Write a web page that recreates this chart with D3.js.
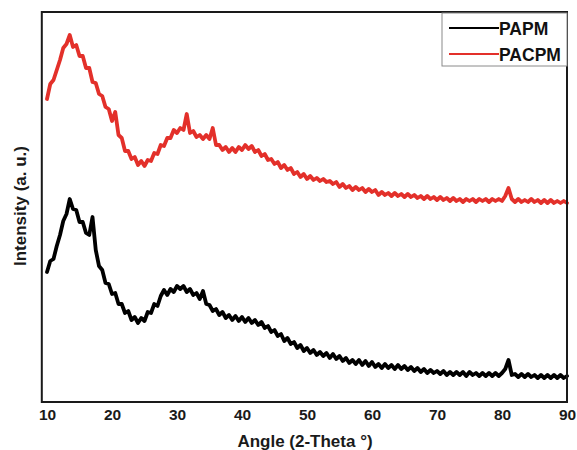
<!DOCTYPE html>
<html>
<head>
<meta charset="utf-8">
<script src="https://cdn.jsdelivr.net/npm/d3@7"></script>
<style>
  html, body { margin: 0; padding: 0; background: #fff; }
  svg { display: block; font-family: "Liberation Sans", Arial, sans-serif; }
</style>
</head>
<body>
<svg id="chart" width="577" height="450"></svg>
<script>
// ---- data (intensity in arbitrary units) ----
const angleStart = 10, angleStep = 0.5; // sampling grid of 2-theta angles
const xTicks = [10, 20, 30, 40, 50, 60, 70, 80, 90];
const seriesNames = ["PAPM", "PACPM"];
const seriesColors = ["#000000", "#e3302a"];

const papm = [
130,141,143,156,167,181,188,203,193,192,180,180,169,167,185,152,136,132,119,118,
108,109,98,98,89,91,82,85,79,84,81,90,89,98,96,106,112,107,113,110,
116,113,116,110,113,107,109,103,111,98,97,91,93,87,90,84,87,82,86,81,
85,80,84,79,82,77,80,74,76,70,72,66,68,61,64,58,60,54,57,51,
54,49,52,47,50,46,49,44,48,43,46,41,44,39,42,38,42,37,41,36,
40,35,38,34,38,34,37,33,37,33,36,32,35,31,34,30,33,29,32,29,
31,28,31,27,30,27,30,27,30,26,30,27,29,26,29,26,29,26,29,26,
29,33,42,27,28,25,28,25,28,25,27,24,27,24,27,24,27,24,27,24,
26];

const pacpm = [
303,318,322,332,342,354,358,367,355,357,346,346,334,334,320,319,308,306,295,293,
281,290,267,264,251,251,243,245,237,241,236,242,241,249,248,257,256,264,264,272,
269,274,272,288,269,271,265,267,263,267,263,274,257,257,252,255,250,254,250,255,
252,257,253,256,250,252,246,248,242,243,238,240,234,237,232,234,228,230,225,228,
223,226,222,224,221,223,220,221,218,220,215,218,214,216,212,215,212,214,210,213,
210,212,207,210,207,209,206,209,206,208,205,208,205,207,204,206,203,206,203,205,
202,205,202,204,201,204,201,203,200,203,201,203,200,203,201,203,200,203,201,203,
201,206,214,203,200,203,200,202,200,203,200,202,199,202,199,202,199,201,199,201,
199];

const seriesValues = [papm, pacpm];

// ---- layout ----
const svg = d3.select("#chart");
const plotLeft = 41.8, plotRight = 567, plotTop = 12, plotBottom = 402;

const x = d3.scaleLinear().domain([9.2, 90]).range([plotLeft, plotRight]);
const y = d3.scaleLinear().domain([0, 390]).range([plotBottom, plotTop]);

const line = d3.line()
  .x((d, i) => x(angleStart + i * angleStep))
  .y(d => y(d));

// curves
seriesValues.forEach((vals, k) => {
  svg.append("path")
    .datum(vals)
    .attr("fill", "none")
    .attr("stroke", seriesColors[k])
    .attr("stroke-width", 3.8)
    .attr("stroke-linejoin", "round")
    .attr("stroke-linecap", "round")
    .attr("d", line);
});

// frame
svg.append("rect")
  .attr("x", plotLeft).attr("y", plotTop)
  .attr("width", plotRight - plotLeft).attr("height", plotBottom - plotTop)
  .attr("fill", "none").attr("stroke", "#1a1a1a").attr("stroke-width", 2);

// x axis labels
const xAxis = d3.axisBottom(x).tickValues(xTicks).tickSize(0).tickPadding(7)
  .tickFormat(d3.format("d"));
const gx = svg.append("g").attr("transform", `translate(0,${plotBottom})`).call(xAxis);
gx.select(".domain").remove();
gx.selectAll("text")
  .attr("font-size", 15.5).attr("font-weight", "bold")
  .attr("fill", "#1a1a1a")
  .attr("font-family", "'Liberation Sans', Arial, sans-serif");

// axis titles
svg.append("text")
  .attr("x", 305).attr("y", 447)
  .attr("text-anchor", "middle")
  .attr("font-size", 17).attr("font-weight", "bold").attr("fill", "#1a1a1a")
  .text("Angle (2-Theta °)");

svg.append("text")
  .attr("transform", "translate(26,206) rotate(-90)")
  .attr("text-anchor", "middle")
  .attr("font-size", 17).attr("font-weight", "bold").attr("fill", "#1a1a1a")
  .text("Intensity (a. u.)");

// legend
const lg = svg.append("g");
lg.append("rect")
  .attr("x", 442).attr("y", 13).attr("width", 125).attr("height", 53)
  .attr("fill", "#fff").attr("stroke", "#8a8a8a").attr("stroke-width", 1);
seriesNames.forEach((name, k) => {
  const yy = [28, 54][k];
  lg.append("line")
    .attr("x1", 449).attr("x2", 499).attr("y1", yy).attr("y2", yy)
    .attr("stroke", seriesColors[k]).attr("stroke-width", 1.8);
  lg.append("text")
    .attr("x", 499).attr("y", yy + 7)
    .attr("font-size", 17.5).attr("font-weight", "bold").attr("fill", "#111")
    .text(name);
});
</script>
</body>
</html>
